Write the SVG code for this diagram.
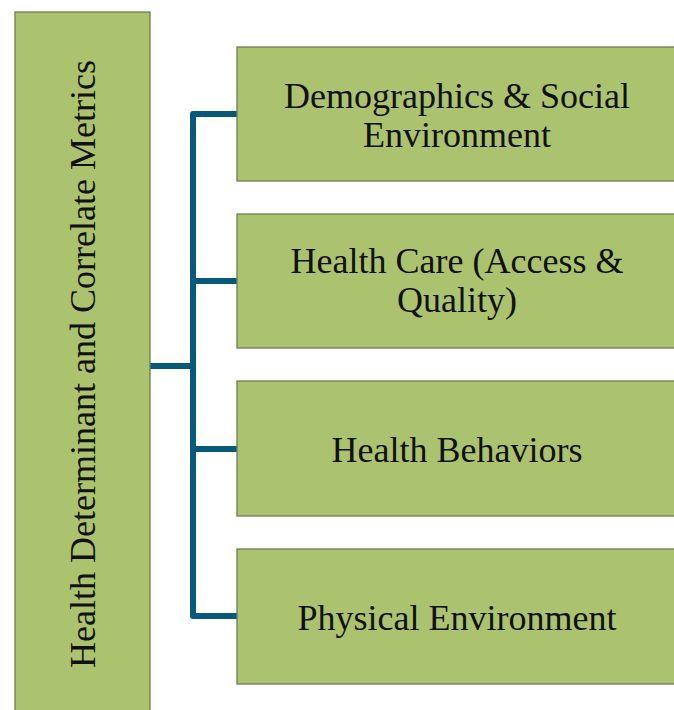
<svg xmlns="http://www.w3.org/2000/svg" width="674" height="710" viewBox="0 0 674 710">
<style>
.box{fill:#abc36f;stroke:#6f7d55;stroke-width:1.3}
.t{font-family:"Liberation Serif","Times New Roman",serif;font-size:36px;fill:#111;text-anchor:middle}
.c{fill:none;stroke:#075a7c;stroke-width:6;stroke-linejoin:round}
</style>
<rect width="674" height="710" fill="#fff"/>
<g id="connectors">
<path class="c" d="M150 366 H193"/>
<path class="c" d="M237 114 H193 V616 H237"/>
<path class="c" d="M193 281 H237"/>
<path class="c" d="M193 449 H237"/>
</g>
<g id="root">
<rect class="box" x="15" y="12" width="135" height="710"/>
<text class="t" transform="translate(95 364) rotate(-90)">Health Determinant and Correlate Metrics</text>
</g>
<g id="n1">
<rect class="box" x="237" y="47" width="450" height="134"/>
<text class="t" x="457" y="108">Demographics &amp; Social</text>
<text class="t" x="457" y="147">Environment</text>
</g>
<g id="n2">
<rect class="box" x="237" y="214" width="450" height="134"/>
<text class="t" x="457" y="273">Health Care (Access &amp;</text>
<text class="t" x="457" y="312">Quality)</text>
</g>
<g id="n3">
<rect class="box" x="237" y="381" width="450" height="135"/>
<text class="t" x="457" y="462">Health Behaviors</text>
</g>
<g id="n4">
<rect class="box" x="237" y="549" width="450" height="135"/>
<text class="t" x="457" y="630">Physical Environment</text>
</g>
</svg>
